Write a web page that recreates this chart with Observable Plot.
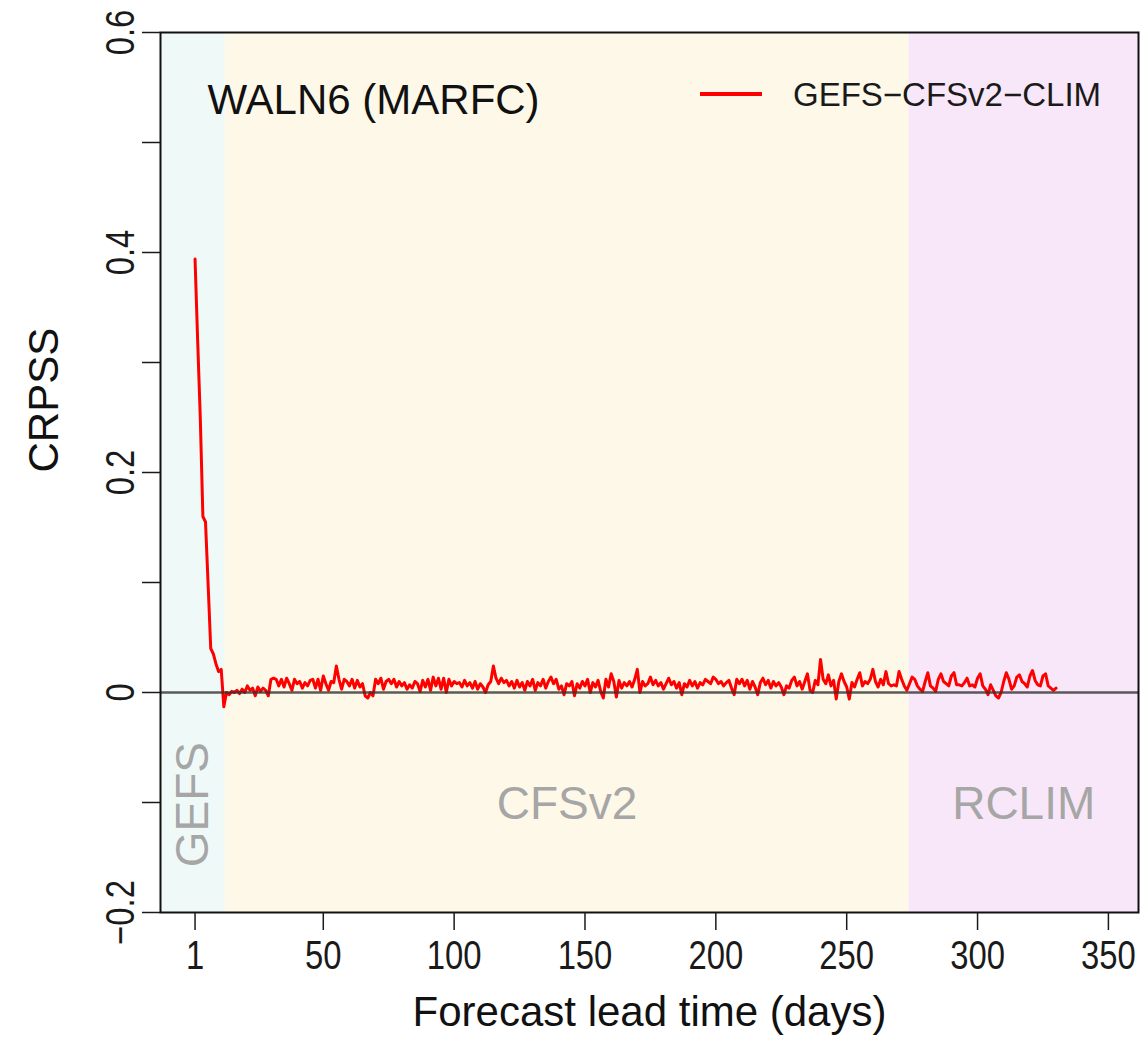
<!DOCTYPE html>
<html><head><meta charset="utf-8">
<script src="https://cdn.jsdelivr.net/npm/d3@7"></script>
<script src="https://cdn.jsdelivr.net/npm/@observablehq/plot@0.6"></script>
<style>
html,body{margin:0;padding:0;background:#fff;}
#wrap{position:relative;width:1144px;height:1052px;}
#legline{position:absolute;left:700px;top:92px;width:62px;height:4px;background:#ff0000;}
#legtext{position:absolute;left:793px;top:76px;font-family:"Liberation Sans",Arial,Helvetica,sans-serif;font-size:33px;color:#1a1a1a;white-space:nowrap;}
</style></head><body><div id="wrap"></div>
<script>
// ---- data ----
const seriesName = "GEFS\u2212CFSv2\u2212CLIM";
const stationTitle = "WALN6 (MARFC)";
// CRPSS by forecast lead day, starting at day 1
const crpss = [
  // days 1-12
  0.394, 0.32, 0.25, 0.16, 0.155, 0.098, 0.04, 0.035, 0.026, 0.019, 0.021, -0.013,
  // days 13-29
  0.0, -0.002, 0.001, 0.0, 0.002, -0.001, 0.003, 0.0, 0.006, 0.002, 0.004, -0.003, 0.005, 0.001, 0.004, 0.002, -0.003,
  // days 30-75
  0.012, 0.013, 0.012, 0.006, 0.012, 0.005, 0.013, 0.008, 0.002, 0.012,
  0.008, 0.01, 0.004, 0.009, 0.006, 0.011, 0.012, 0.004, 0.012, 0.002,
  0.015, 0.008, 0.002, 0.01, 0.009, 0.024, 0.012, 0.003, 0.012, 0.01,
  0.006, 0.012, 0.004, 0.011, 0.005, 0.008, -0.003, -0.005, 0.0, -0.003,
  0.012, 0.008, 0.013, 0.003, 0.01, 0.012,
  // days 76-142
  0.008, 0.012, 0.005, 0.01, 0.006, 0.009, 0.003, 0.007, 0.004, 0.01,
  0.008, 0.001, 0.011, 0.005, 0.012, 0.002, 0.014, 0.006, 0.013, 0.003,
  0.013, 0.0, 0.012, 0.006, 0.01, 0.008, 0.009, 0.005, 0.011, 0.006,
  0.009, 0.004, 0.01, 0.003, 0.008, 0.005, 0.0, 0.007, 0.01, 0.024,
  0.013, 0.008, 0.013, 0.009, 0.011, 0.006, 0.01, 0.004, 0.011, 0.005,
  0.009, 0.002, 0.01, 0.006, 0.012, 0.002, 0.009, 0.006, 0.012, 0.004,
  0.01, 0.014, 0.008, 0.012, 0.003, 0.006, -0.002,
  // days 143-209
  0.008, 0.006, 0.01, -0.003, 0.008, 0.004, 0.01, 0.006, 0.012, 0.0,
  0.009, 0.005, 0.011, 0.001, -0.005, 0.012, 0.005, 0.017, 0.01, -0.004,
  0.011, 0.004, 0.009, 0.006, 0.01, 0.005, 0.012, 0.021, 0.0, 0.01,
  0.006, 0.008, 0.014, 0.007, 0.011, 0.006, 0.009, 0.003, 0.008, 0.013,
  0.007, 0.01, 0.004, 0.009, -0.002, 0.008, 0.005, 0.011, 0.006, 0.01,
  0.004, 0.009, 0.007, 0.012, 0.01, 0.008, 0.014, 0.012, 0.008, 0.01,
  0.006, 0.009, 0.011, 0.004, -0.002, 0.012, 0.008,
  // days 210-276
  0.012, 0.006, 0.011, 0.003, 0.01, 0.005, -0.002, 0.009, 0.013, 0.007,
  0.011, 0.004, 0.01, 0.006, 0.009, 0.005, -0.002, 0.006, 0.004, 0.011,
  0.014, 0.006, 0.01, 0.003, 0.01, 0.017, 0.002, 0.0, 0.011, 0.007,
  0.03, 0.012, 0.008, 0.016, 0.006, 0.011, -0.006, 0.01, 0.017, 0.01,
  0.005, -0.006, 0.009, 0.005, 0.012, 0.018, 0.006, 0.01, 0.008, 0.012,
  0.021, 0.01, 0.005, 0.012, 0.007, 0.019, 0.008, 0.006, 0.007, 0.006,
  0.019, 0.012, 0.006, 0.002, 0.008, 0.014, 0.012,
  // days 277-330
  0.006, 0.003, 0.001, 0.01, 0.018, 0.006, 0.004, 0.001, 0.012, 0.017,
  0.01, 0.008, 0.006, 0.015, 0.018, 0.007, 0.007, 0.006, 0.009, 0.013,
  0.006, 0.007, 0.005, 0.013, 0.017, 0.006, 0.003, -0.002, 0.007, 0.002,
  -0.003, -0.005, 0.0, 0.01, 0.018, 0.012, 0.003, 0.006, 0.014, 0.016,
  0.01, 0.008, 0.005, 0.015, 0.02, 0.011, 0.007, 0.006, 0.015, 0.017,
  0.006, 0.004, 0.002, 0.004
];
const firstDay = 1;

const xDomain = [-12.2, 361.5];
const yDomain = [-0.2, 0.6];
const xTicks = [1, 50, 100, 150, 200, 250, 300, 350];
const yTicks = [-0.2, -0.1, 0, 0.1, 0.2, 0.3, 0.4, 0.5, 0.6];
const yTickLabels = [-0.2, 0, 0.2, 0.4, 0.6];

const regionNames = ["GEFS", "CFSv2", "RCLIM"];
const regionStart = [xDomain[0], 12.5, 273.8];
const regionEnd = [12.5, 273.8, xDomain[1]];
const regionColors = ["#effaf8", "#fef8e8", "#f8e7f8"];

// ---- build tables ----
const series = crpss.map((v, i) => ({day: firstDay + i, value: v}));
const regions = regionNames.map((n, i) => ({name: n, start: regionStart[i], end: regionEnd[i], color: regionColors[i], mid: (regionStart[i] + regionEnd[i]) / 2}));

const sans = "'Liberation Sans', Arial, Helvetica, sans-serif";
const fmt = v => v === 0 ? "0" : (v < 0 ? "\u2212" + Math.abs(v).toFixed(1) : v.toFixed(1));

const chart = Plot.plot({
  width: 1144, height: 1052,
  marginLeft: 160, marginRight: 6, marginTop: 32, marginBottom: 140,
  x: {domain: xDomain},
  y: {domain: yDomain},
  color: {type: "identity"},
  style: {fontFamily: sans, background: "white", color: "#1a1a1a", overflow: "visible"},
  marks: [
    Plot.rect(regions, {x1: "start", x2: "end", fill: "color"}),
    Plot.text(regions.filter(r => r.name !== "GEFS"), {x: "mid", y: -0.102, text: "name", fill: "#a6a6a6", fontSize: 46, fontFamily: sans, lineAnchor: "middle"}),
    Plot.text(regions.filter(r => r.name === "GEFS"), {x: "mid", y: -0.102, text: "name", fill: "#a6a6a6", fontSize: 46, fontFamily: sans, rotate: -90, lineAnchor: "middle"}),
    Plot.line(series, {x: "day", y: "value", stroke: "#ff0000", strokeWidth: 3}),
    Plot.ruleY([0], {stroke: "#333", strokeWidth: 2.5, strokeOpacity: 0.8}),
    Plot.frame({stroke: "#111", strokeWidth: 2}),
    Plot.axisX({ticks: xTicks, tickSize: 18, tickFormat: () => "", label: null, strokeWidth: 1.5}),
    Plot.axisY({ticks: yTicks, tickSize: 18, tickFormat: () => "", label: null, strokeWidth: 1.5}),
    Plot.text(xTicks, {x: d => d, text: d => String(d), frameAnchor: "bottom", dy: 28, textAnchor: "start", lineAnchor: "top", fontSize: 40, fontFamily: sans, fill: "#1a1a1a"}),
    Plot.text(yTickLabels, {y: d => d, text: fmt, frameAnchor: "left", dx: -39, rotate: -90, textAnchor: "start", lineAnchor: "middle", fontSize: 40, fontFamily: sans, fill: "#1a1a1a"}),
    Plot.text([stationTitle], {frameAnchor: "top-left", dx: 47, dy: 68, textAnchor: "start", lineAnchor: "middle", fontSize: 42, fontFamily: sans, fill: "#111"}),
    Plot.text(["CRPSS"], {frameAnchor: "left", dx: -116, rotate: -90, lineAnchor: "middle", fontSize: 42, fontFamily: sans, fill: "#111"}),
    Plot.text(["Forecast lead time (days)"], {frameAnchor: "bottom", dy: 100, lineAnchor: "middle", fontSize: 42, fontFamily: sans, fill: "#111"})
  ]
});

const wrap = document.getElementById("wrap");
wrap.appendChild(chart);
const ll = document.createElement("div"); ll.id = "legline"; wrap.appendChild(ll);
const lt = document.createElement("div"); lt.id = "legtext"; lt.textContent = seriesName; wrap.appendChild(lt);

// narrow the tick-label glyphs (the reference uses a condensed face); labels are start-anchored, then centred
const squeezeK = 0.82;
const tickStrings = new Set([...xTicks.map(String), ...yTickLabels.map(fmt)]);
chart.querySelectorAll("text").forEach(t => {
  if (!tickStrings.has(t.textContent.trim())) return;
  const w = t.getComputedTextLength();
  if (w > 0) {
    t.setAttribute("textLength", (w * squeezeK).toFixed(2));
    t.setAttribute("lengthAdjust", "spacingAndGlyphs");
    t.setAttribute("dx", (-w * squeezeK / 2).toFixed(2));
  }
});
</script>
</body></html>
